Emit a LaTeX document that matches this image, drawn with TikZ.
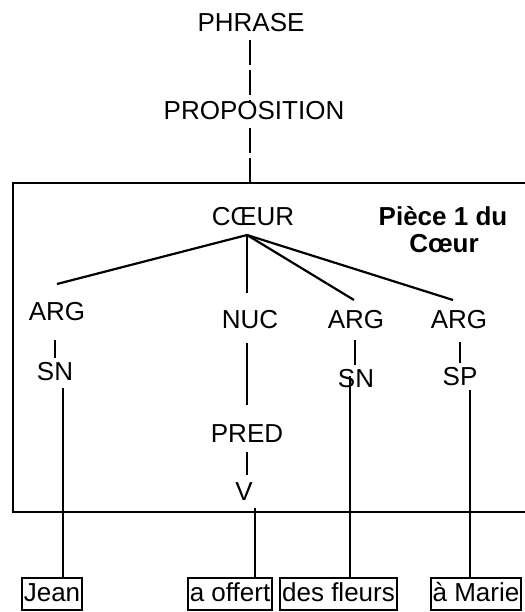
\documentclass[tikz,border=0pt]{standalone}
\usepackage{fontspec}
\setmainfont{Liberation Sans}
\begin{document}
\begin{tikzpicture}[x=1bp,y=-1bp,
  lbl/.style={anchor=base,inner sep=0pt,font=\fontsize{26bp}{30bp}\selectfont},
  blbl/.style={lbl,font=\fontsize{26bp}{30bp}\selectfont\bfseries},
  word/.style={draw,line width=2bp,anchor=center,inner xsep=1.8bp,inner ysep=0pt,
    minimum height=32bp,text height=19bp,text depth=5bp,font=\fontsize{26bp}{30bp}\selectfont},
  tline/.style={line width=2.2bp},
  sline/.style={line width=1.7bp},
  vline/.style={line width=1.5bp},
  frame/.style={line width=2.6bp}]
\useasboundingbox (0,0) rectangle (525,612);
% frame (right side outside the picture)
\coordinate (boxtop) at (250,183);
\draw[frame] (530,183) -- (13,183) -- (13,512) -- (530,512);
% labels
\node[lbl] (phrase) at (251,32) {PHRASE};
\node[lbl] (prop) at (254,120) {PROPOSITION};
\node[lbl] (coeur) at (253,225) {CŒUR};
\node[blbl] (piece) at (443,225) {Pièce 1 du};
\node[blbl] (piece2) at (444,252) {Cœur};
\node[lbl] (argl) at (57,320) {ARG};
\node[lbl] (snl) at (55,380) {SN};
\node[lbl] (nuc) at (250,328) {NUC};
\node[lbl] (argm) at (356,328) {ARG};
\node[lbl] (snm) at (356,387) {SN};
\node[lbl] (argr) at (459,328) {ARG};
\node[lbl] (sp) at (460,385) {SP};
\node[lbl] (pred) at (247,442) {PRED};
\node[lbl] (v) at (244,500) {V};
% words
\node[word] (jean) at (52,594) {Jean};
\node[word] (offert) at (230,594) {a offert};
\node[word] (fleurs) at (338.5,594) {des fleurs};
\node[word] (marie) at (476,594) {à Marie};
% upper dashed-looking connectors
\draw[sline,dash pattern=on 25bp off 5bp] (phrase.base -| 250,0) ++(0,8) -- (prop.north -| 250,0);
\draw[sline,dash pattern=on 25bp off 5bp] (250,128) -- (boxtop);
% fan from COEUR
\coordinate (fan) at (247,235);
\coordinate (fa) at (57,284);
\coordinate (fb) at (247,293);
\coordinate (fc) at (354,300);
\coordinate (fd) at (453,300);
\draw[tline] (fan) -- (fa);
\draw[tline] (fan) -- (fb);
\draw[tline] (fan) -- (fc);
\draw[tline] (fan) -- (fd);
% short connectors
\draw[sline] (55,340) -- (55,358);
\draw[sline] (247,343) -- (247,405);
\draw[sline] (247,452) -- (247,475);
\draw[sline] (355,340) -- (355,365);
\draw[sline] (460,342) -- (460,363);
% long connectors to words
\coordinate (j1) at (63,388);
\coordinate (o1) at (255,508);
\coordinate (f1) at (350,376);
\coordinate (m1) at (470,390);
\draw[vline] (j1) -- (j1 |- jean.north);
\draw[vline] (o1) -- (o1 |- offert.north);
\draw[vline] (f1) -- (f1 |- fleurs.north);
\draw[vline] (m1) -- (m1 |- marie.north);
\end{tikzpicture}
\end{document}
